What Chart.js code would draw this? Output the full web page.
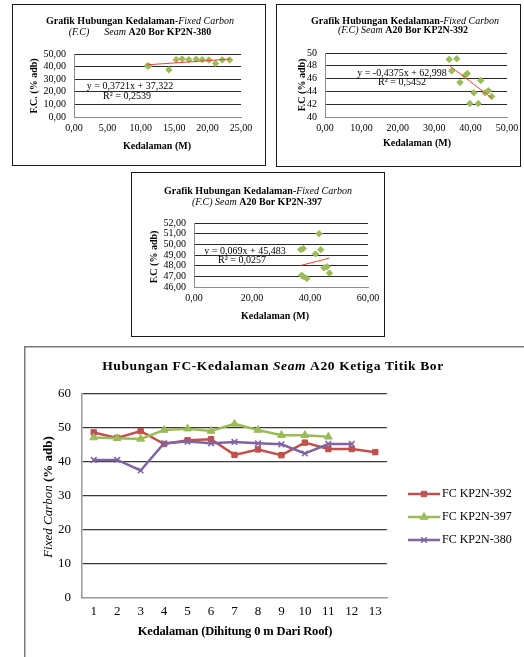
<!DOCTYPE html>
<html>
<head>
<meta charset="utf-8">
<script src="https://cdn.jsdelivr.net/npm/chart.js@4/dist/chart.umd.min.js"></script>
<style>
  html, body { margin: 0; padding: 0; background: #fff; width: 524px; height: 657px; overflow: hidden; }
  canvas { position: absolute; }
</style>
</head>
<body>
<canvas id="kp380"></canvas>
<canvas id="kp392"></canvas>
<canvas id="kp397"></canvas>
<canvas id="kpAll"></canvas>
<script>
// ---- Seam A20, borehole KP2N-380: depth (m) vs fixed carbon (% adb)
const depth380 = [11.0, 11.2, 14.2, 15.3, 16.2, 17.2, 18.3, 19.2, 20.2, 21.2, 22.2, 23.3];
const fc380    = [40.6, 40.6, 37.5, 45.5, 46.0, 45.5, 45.9, 45.5, 45.2, 42.5, 45.3, 45.3];
const trend380 = [0.3721, 37.322, 0.2539];          // slope, intercept, R²

// ---- borehole KP2N-392
const depth392 = [34.1, 36.2, 34.8, 37.1, 38.5, 39.1, 39.8, 40.9, 42.1, 42.8, 44.0, 44.9, 45.8];
const fc392    = [49.0, 49.1, 47.2, 45.4, 46.5, 46.8, 42.1, 43.8, 42.1, 45.7, 43.8, 44.1, 43.2];
const trend392 = [-0.4375, 62.998, 0.5452];

// ---- borehole KP2N-397
const depth397 = [36.8, 37.7, 41.9, 43.1, 43.7, 44.8, 45.9, 46.7, 37.1, 37.7, 38.9];
const fc397    = [49.5, 49.6, 49.1, 51.0, 49.5, 47.8, 47.9, 47.3, 47.1, 47.0, 46.8];
const trend397 = [0.069, 45.483, 0.0257];

// ---- combined line chart: sample number counted from the roof
const sampleSteps = ['1', '2', '3', '4', '5', '6', '7', '8', '9', '10', '11', '12', '13'];
const fcKP2N392 = [48.7, 47.1, 49.1, 45.3, 46.4, 46.7, 42.1, 43.7, 42.0, 45.7, 43.8, 43.8, 42.9];
const fcKP2N397 = [47.2, 47.0, 46.8, 49.4, 49.8, 49.1, 51.2, 49.4, 47.9, 47.9, 47.4, null, null];
const fcKP2N380 = [40.6, 40.6, 37.5, 45.5, 46.0, 45.5, 45.9, 45.5, 45.2, 42.5, 45.3, 45.3, null];
const seriesNames = ['FC KP2N-392', 'FC KP2N-397', 'FC KP2N-380'];

const SERIF = "'Liberation Serif', 'Times New Roman', serif";
Chart.defaults.font.family = SERIF;
Chart.defaults.color = '#000';

const RED = '#C0504D', GREEN = '#9BBB59', PURPLE = '#8064A2';

const comma = (v, dec) => (dec == null ? String(v) : v.toFixed(dec)).replace('.', ',');

// draws a line of text made of differently styled runs, centred on (cx, cy)
function drawRuns(ctx, runs, cx, cy, size, spacing) {
  const fontOf = s => (s.includes('i') ? 'italic ' : '') + (s.includes('b') ? 'bold ' : '') + size + 'px ' + SERIF;
  ctx.save();
  if ('letterSpacing' in ctx) ctx.letterSpacing = (spacing || 0) + 'px';
  ctx.textAlign = 'left';
  ctx.textBaseline = 'middle';
  ctx.fillStyle = '#000';
  let total = 0;
  const widths = runs.map(([t, s]) => { ctx.font = fontOf(s); const w = ctx.measureText(t).width; total += w; return w; });
  let x = cx - total / 2;
  runs.forEach(([t, s], i) => { ctx.font = fontOf(s); ctx.fillText(t, x, cy); x += widths[i]; });
  ctx.restore();
}

function textPlugin(frame, items, border) {
  return {
    id: 'frameTexts',
    afterDraw(chart) {
      const ctx = chart.ctx;
      ctx.save();
      if (border) border(ctx, frame);
      items.forEach(it => {
        const x = it.x - frame.x, y = it.y - frame.y;
        if (it.rot) {
          ctx.save();
          ctx.translate(x, y);
          ctx.rotate(-Math.PI / 2);
          drawRuns(ctx, it.runs, 0, 0, it.size, it.spacing);
          ctx.restore();
        } else {
          drawRuns(ctx, it.runs, x, y, it.size, it.spacing);
        }
      });
      ctx.restore();
    }
  };
}

function boxBorder(ctx, f) {
  ctx.strokeStyle = '#1a1a1a';
  ctx.lineWidth = 1;
  ctx.strokeRect(0.5, 0.5, f.w - 1, f.h - 1);
}

function placeCanvas(id, f) {
  const cv = document.getElementById(id);
  cv.width = f.w; cv.height = f.h;
  cv.style.left = f.x + 'px'; cv.style.top = f.y + 'px';
  cv.style.width = f.w + 'px'; cv.style.height = f.h + 'px';
  return cv;
}

function depthScatter(id, frame, area, xAx, yAx, depth, fc, trend, label, ytitle, texts) {
  const cv = placeCanvas(id, frame);
  const pts = depth.map((d, i) => ({ x: d, y: fc[i] }));
  const lo = Math.min(...depth), hi = Math.max(...depth);
  const [slope, icpt, r2] = trend;
  const fitLine = [lo, hi].map(x => ({ x, y: slope * x + icpt }));
  const eqText = 'y = ' + comma(slope) + 'x + ' + comma(icpt);
  const r2Text = 'R\u00B2 = ' + comma(r2);
  const items = [
    { runs: [['Grafik Hubungan Kedalaman-', 'b'], ['Fixed Carbon', 'i']], x: texts.title[0], y: texts.title[1], size: 10 },
    { runs: label, x: texts.title2[0], y: texts.title2[1], size: 10 },
    { runs: [[eqText, 'n']], x: texts.eq[0], y: texts.eq[1], size: 10 },
    { runs: [[r2Text, 'n']], x: texts.r2[0], y: texts.r2[1], size: 10 },
    { runs: [[ytitle, 'b']], x: texts.yt[0], y: texts.yt[1], size: 10, rot: true },
    { runs: [['Kedalaman (M)', 'b']], x: texts.xt[0], y: texts.xt[1], size: 10 }
  ];
  new Chart(cv, {
    type: 'scatter',
    data: {
      datasets: [
        { data: pts, pointStyle: 'rectRot', pointRadius: 3.2, backgroundColor: GREEN, borderColor: GREEN, borderWidth: 1, order: 2 },
        { type: 'line', data: fitLine, borderColor: '#E8432E', borderWidth: 1, pointRadius: 0, fill: false, order: 1 }
      ]
    },
    options: {
      responsive: false, animation: false, devicePixelRatio: 1,
      layout: { padding: { left: 0, top: area.top - frame.y, right: frame.x + frame.w - area.right, bottom: 0 } },
      plugins: { legend: { display: false }, tooltip: { enabled: false } },
      scales: {
        x: {
          type: 'linear', min: xAx.min, max: xAx.max,
          ticks: { stepSize: xAx.step, padding: 5, maxRotation: 0, autoSkip: false, font: { size: 10 }, callback: v => comma(v, xAx.dec) },
          grid: { display: false, drawTicks: false },
          border: { display: true, color: '#8c8c8c', width: 1 },
          afterFit: s => { s.height = frame.y + frame.h - area.bottom; s.paddingLeft = 0; s.paddingRight = 0; }
        },
        y: {
          type: 'linear', min: yAx.min, max: yAx.max,
          ticks: { stepSize: yAx.step, padding: 8, autoSkip: false, font: { size: 10 }, callback: v => comma(v, yAx.dec) },
          grid: { drawTicks: false, lineWidth: 1, color: c => (c.tick && c.tick.value === yAx.min) ? 'rgba(0,0,0,0)' : '#2a2a2a' },
          border: { display: true, color: '#8c8c8c', width: 1 },
          afterFit: s => { s.width = area.left - frame.x; s.paddingTop = 0; s.paddingBottom = 0; }
        }
      }
    },
    plugins: [textPlugin(frame, items, boxBorder)]
  });
}

// KP2N-380
depthScatter('kp380',
  { x: 12, y: 4, w: 254, h: 162 }, { left: 74, right: 241, top: 54, bottom: 117 },
  { min: 0, max: 25, step: 5, dec: 2 }, { min: 0, max: 50, step: 10, dec: 2 },
  depth380, fc380, trend380,
  [['(F.C)', 'i'], ['      ', 'n'], ['Seam', 'i'], [' A20 Bor KP2N-380', 'b']], 'F.C. (% adb)',
  { title: [140, 21], title2: [140, 32], eq: [130, 86], r2: [127, 96], yt: [34, 86], xt: [157, 146] });

// KP2N-392
depthScatter('kp392',
  { x: 276, y: 4, w: 245, h: 163 }, { left: 325, right: 507, top: 53, bottom: 117 },
  { min: 0, max: 50, step: 10, dec: 2 }, { min: 40, max: 50, step: 2, dec: null },
  depth392, fc392, trend392,
  [['(F.C) ', 'i'], ['Seam', 'i'], [' A20 Bor KP2N-392', 'b']], 'F.C (% adb)',
  { title: [405, 21], title2: [403, 30], eq: [402, 73], r2: [402, 82], yt: [302, 85], xt: [417, 143] });

// KP2N-397
depthScatter('kp397',
  { x: 131, y: 172, w: 254, h: 165 }, { left: 194, right: 368, top: 223, bottom: 287 },
  { min: 0, max: 60, step: 20, dec: 2 }, { min: 46, max: 52, step: 1, dec: 2 },
  depth397, fc397, trend397,
  [['(F.C) ', 'i'], ['Seam', 'i'], [' A20 Bor KP2N-397', 'b']], 'F.C (% adb)',
  { title: [258, 191], title2: [257, 202], eq: [245, 251], r2: [242, 260], yt: [154, 257], xt: [275, 316] });

// ---- combined chart of the three boreholes
(function () {
  const frame = { x: 24, y: 346, w: 500, h: 311 };
  const area = { left: 82, right: 387, top: 394, bottom: 598 };
  const cv = placeCanvas('kpAll', frame);
  const colours = [RED, GREEN, PURPLE];
  const styles = [
    { pointStyle: 'rect', pointRadius: 3.8, pointBorderWidth: 1 },
    { pointStyle: 'triangle', pointRadius: 4.5, pointBorderWidth: 1 },
    { pointStyle: 'crossRot', pointRadius: 4, pointBorderWidth: 1.5 }
  ];
  const series = [fcKP2N392, fcKP2N397, fcKP2N380];

  const items = [
    { runs: [['Hubungan FC-Kedalaman ', 'b'], ['Seam', 'bi'], [' A20 Ketiga Titik Bor', 'b']], x: 273, y: 367, size: 13.5, spacing: 0.6 },
    { runs: [['Fixed Carbon', 'i'], [' (% adb)', 'b']], x: 49, y: 497, size: 13, rot: true },
    { runs: [['Kedalaman (Dihitung 0 m Dari Roof)', 'b']], x: 235, y: 632, size: 12.5, spacing: -0.15 }
  ];

  const frameEdges = (ctx, f) => {
    ctx.strokeStyle = '#7a7a7a';
    ctx.lineWidth = 1.5;
    ctx.beginPath();
    ctx.moveTo(0.75, f.h);
    ctx.lineTo(0.75, 0.75);
    ctx.lineTo(f.w, 0.75);
    ctx.stroke();
  };

  const legendPlugin = {
    id: 'sideLegend',
    afterDraw(chart) {
      const ctx = chart.ctx;
      const rows = [494, 517, 540];
      chart.data.datasets.forEach((ds, i) => {
        const y = rows[i] - frame.y;
        const x0 = 408 - frame.x, x1 = 440 - frame.x;
        ctx.save();
        ctx.strokeStyle = ds.borderColor;
        ctx.fillStyle = ds.borderColor;
        ctx.lineWidth = 2.5;
        ctx.beginPath(); ctx.moveTo(x0, y); ctx.lineTo(x1, y); ctx.stroke();
        ctx.lineWidth = ds.pointBorderWidth;
        Chart.helpers.drawPoint(ctx, {
          pointStyle: ds.pointStyle, radius: ds.pointRadius, borderWidth: ds.pointBorderWidth, rotation: 0
        }, (x0 + x1) / 2, y);
        ctx.fillStyle = '#000';
        ctx.font = '12px ' + SERIF;
        ctx.textAlign = 'left';
        ctx.textBaseline = 'middle';
        ctx.fillText(ds.label, x1 + 2, y);
        ctx.restore();
      });
    }
  };

  new Chart(cv, {
    type: 'line',
    data: {
      labels: sampleSteps,
      datasets: series.map((d, i) => Object.assign({
        label: seriesNames[i], data: d,
        borderColor: colours[i], backgroundColor: colours[i],
        pointBackgroundColor: colours[i], pointBorderColor: colours[i],
        borderWidth: 2.5, tension: 0, fill: false, order: 3 - i
      }, styles[i]))
    },
    options: {
      responsive: false, animation: false, devicePixelRatio: 1,
      layout: { padding: { left: 0, top: area.top - frame.y, right: frame.x + frame.w - area.right, bottom: 0 } },
      plugins: { legend: { display: false }, tooltip: { enabled: false } },
      scales: {
        x: {
          type: 'category', offset: true,
          ticks: { padding: 6, maxRotation: 0, autoSkip: false, font: { size: 13 } },
          grid: { display: false, drawTicks: false },
          border: { display: true, color: '#9a9a9a', width: 1.5 },
          afterFit: s => { s.height = frame.y + frame.h - area.bottom; s.paddingLeft = 0; s.paddingRight = 0; }
        },
        y: {
          type: 'linear', min: 0, max: 60,
          ticks: { stepSize: 10, padding: 11, autoSkip: false, font: { size: 13 } },
          grid: { drawTicks: false, lineWidth: 1.2, color: c => (c.tick && c.tick.value === 0) ? 'rgba(0,0,0,0)' : '#3a3a3a' },
          border: { display: true, color: '#9a9a9a', width: 1.5 },
          afterFit: s => { s.width = area.left - frame.x; s.paddingTop = 0; s.paddingBottom = 0; }
        }
      }
    },
    plugins: [textPlugin(frame, items, frameEdges), legendPlugin]
  });
})();
</script>
</body>
</html>
